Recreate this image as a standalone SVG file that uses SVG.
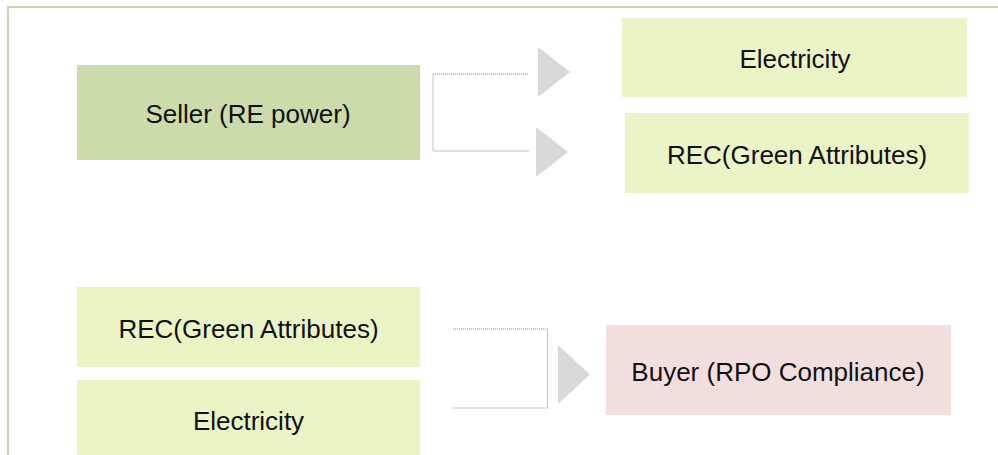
<svg xmlns="http://www.w3.org/2000/svg" width="998" height="455" viewBox="0 0 998 455">
  <defs>
    <!-- fine woven texture laid over the box fills -->
    <pattern id="weave" width="4" height="4" patternUnits="userSpaceOnUse">
      <rect x="0" y="0" width="1" height="1" fill="#ffffff" fill-opacity="0.35"/>
      <rect x="2" y="2" width="1" height="1" fill="#ffffff" fill-opacity="0.35"/>
    </pattern>
  </defs>
  <style>
    .lbl { font-family: "Liberation Sans", Arial, sans-serif; font-size: 26px; fill: #111111; text-anchor: middle; }
    .seller { fill: #c8dba1; }
    .item { fill: #eaf5bd; }
    .buyer { fill: #f5dcdc; }
    .tex { fill: url(#weave); }
    .frame { stroke: #d6cfb2; stroke-width: 2; fill: none; }
    .dot { stroke: #8c8878; stroke-width: 1.2; stroke-dasharray: 1 1; fill: none; }
    .line { stroke: #c4c4c4; stroke-width: 1; fill: none; }
    .tri { fill: #d9d9d9; }
  </style>

  <rect width="998" height="455" fill="#ffffff"/>

  <!-- page frame -->
  <path class="frame" d="M8 455 V7 H998"/>

  <!-- top: seller splits into electricity and REC -->
  <g id="seller">
    <rect class="seller" x="77" y="65" width="343" height="95"/>
    <rect class="tex" x="77" y="65" width="343" height="95"/>
    <text class="lbl" x="248" y="123">Seller (RE power)</text>
  </g>
  <g id="electricity-top">
    <rect class="item" x="622" y="18" width="345" height="79"/>
    <rect class="tex" x="622" y="18" width="345" height="79"/>
    <text class="lbl" x="795" y="68">Electricity</text>
  </g>
  <g id="rec-top">
    <rect class="item" x="625" y="113" width="344" height="80"/>
    <rect class="tex" x="625" y="113" width="344" height="80"/>
    <text class="lbl" x="797" y="164">REC(Green Attributes)</text>
  </g>

  <!-- bottom: REC and electricity combine into the buyer -->
  <g id="rec-bottom">
    <rect class="item" x="77" y="287" width="343" height="80"/>
    <rect class="tex" x="77" y="287" width="343" height="80"/>
    <text class="lbl" x="248.5" y="338">REC(Green Attributes)</text>
  </g>
  <g id="electricity-bottom">
    <rect class="item" x="77" y="380" width="343" height="80"/>
    <rect class="tex" x="77" y="380" width="343" height="80"/>
    <text class="lbl" x="248.5" y="430">Electricity</text>
  </g>
  <g id="buyer">
    <rect class="buyer" x="606" y="325" width="345" height="90"/>
    <rect class="tex" x="606" y="325" width="345" height="90"/>
    <text class="lbl" x="778" y="381">Buyer (RPO Compliance)</text>
  </g>

  <g id="connectors">
    <!-- seller bracket -->
    <path class="dot" d="M433 74 H529"/>
    <path class="line" d="M433 74 V151 H529"/>
    <polygon class="tri" points="538,47 570,72 538,97"/>
    <polygon class="tri" points="536,127 568,152 536,177"/>
    <!-- buyer bracket -->
    <path class="dot" d="M453 329 H548"/>
    <path class="line" d="M547.5 329 V408 M453 408 H548"/>
    <polygon class="tri" points="558,345 590,374.5 558,404"/>
  </g>
</svg>
